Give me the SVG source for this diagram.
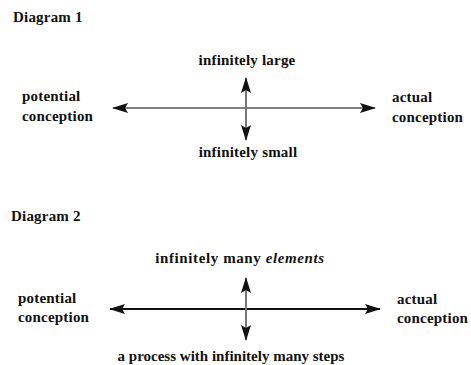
<svg xmlns="http://www.w3.org/2000/svg" width="471" height="365" viewBox="0 0 471 365">
  <style>
    text { font-family: "Liberation Serif", "DejaVu Serif", "Times New Roman", serif; font-weight: bold; font-size: 15px; letter-spacing: 0.2px; fill: #111; }
    .mid { text-anchor: middle; }
    .wide { letter-spacing: 0.6px; }
    .tight { letter-spacing: 0; }
    .axis1 { stroke: #808080; stroke-width: 2; fill: none; }
    .axis2 { stroke: #111; stroke-width: 2; fill: none; }
    .vert { stroke: #777; stroke-width: 2; fill: none; }
  </style>
  <defs>
    <marker id="head" viewBox="0 0 16 10" refX="15" refY="5" markerWidth="16" markerHeight="10" markerUnits="userSpaceOnUse" orient="auto-start-reverse">
      <path d="M0,0 L16,5 L0,10 L3,5 Z" fill="#111"/>
    </marker>
  </defs>
  <rect width="471" height="365" fill="#fff"/>

  <!-- Diagram 1 -->
  <g id="title1"><text x="13" y="22">Diagram 1</text></g>
  <g id="d1-top"><text class="mid" x="247" y="65">infinitely large</text></g>
  <g id="d1-bottom"><text class="mid" x="248" y="157">infinitely small</text></g>
  <g id="d1-left"><text x="22" y="101">potential</text><text x="22" y="121">conception</text></g>
  <g id="d1-right"><text x="392" y="102">actual</text><text x="392" y="122">conception</text></g>

  <!-- Diagram 2 -->
  <g id="title2"><text x="11" y="221">Diagram 2</text></g>
  <g id="d2-top"><text class="mid wide" x="240" y="263">infinitely many <tspan font-style="italic">elements</tspan></text></g>
  <g id="d2-bottom"><text class="mid tight" x="231" y="361">a process with infinitely many steps</text></g>
  <g id="d2-left"><text x="18" y="303">potential</text><text x="18" y="322">conception</text></g>
  <g id="d2-right"><text x="397" y="304">actual</text><text x="397" y="323">conception</text></g>

  <g id="connectors">
    <line class="axis1" x1="113" y1="108" x2="375" y2="108" marker-start="url(#head)" marker-end="url(#head)"/>
    <line class="vert" x1="246" y1="78" x2="246" y2="140" marker-start="url(#head)" marker-end="url(#head)"/>
    <line class="axis2" x1="110" y1="309" x2="380" y2="309" marker-start="url(#head)" marker-end="url(#head)"/>
    <line class="vert" x1="246" y1="278" x2="246" y2="340" marker-start="url(#head)" marker-end="url(#head)"/>
  </g>
</svg>
